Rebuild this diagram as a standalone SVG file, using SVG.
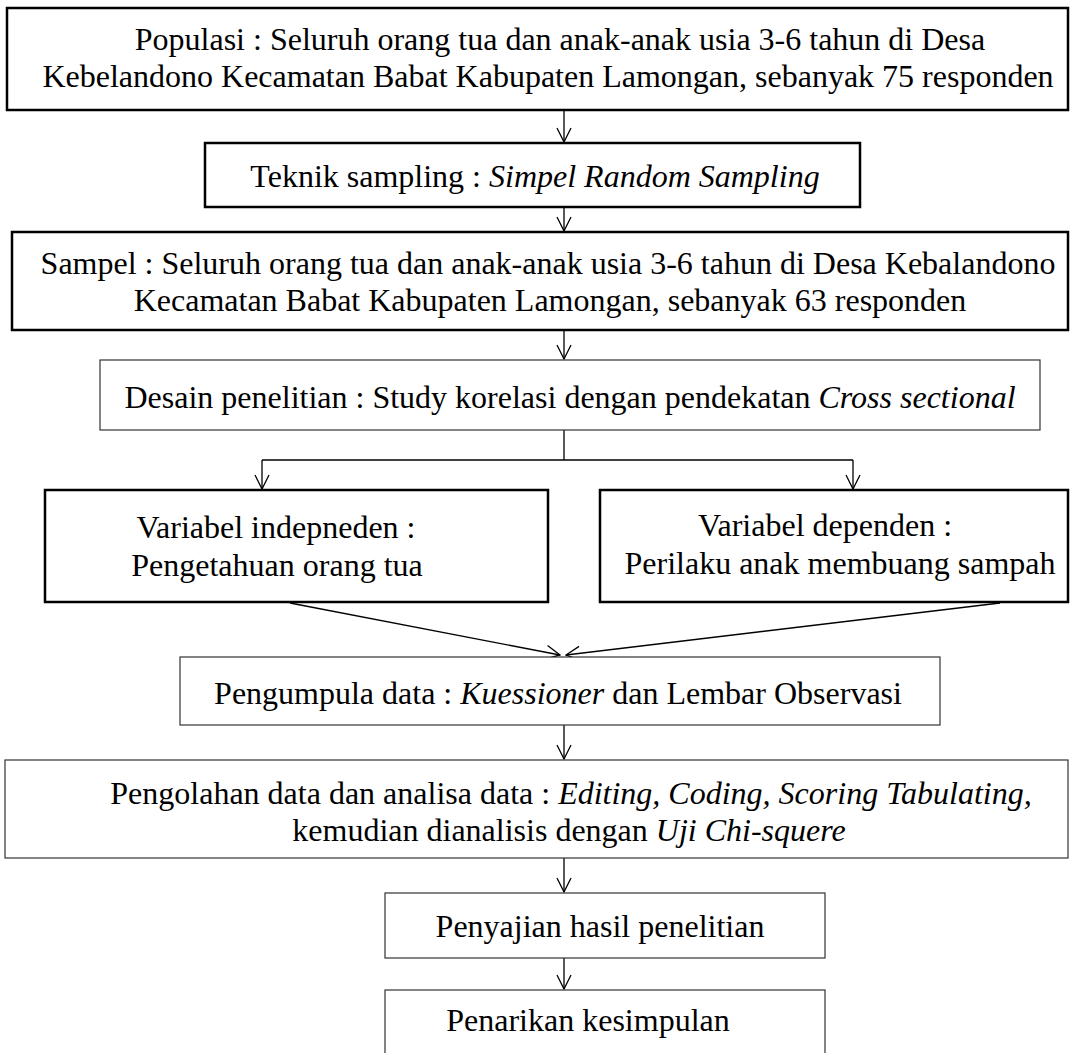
<svg xmlns="http://www.w3.org/2000/svg" width="1071" height="1053" viewBox="0 0 1071 1053">
<style>
text{font-family:"Liberation Serif","Times New Roman",serif;font-size:32px;fill:#000;text-anchor:middle}
.i{font-style:italic}
.thick{fill:#fff;stroke:#000;stroke-width:2.5}
.thin{fill:#fff;stroke:#333;stroke-width:1.2}
.c{fill:none;stroke:#000;stroke-width:1.3}
</style>
<defs>
<marker id="a" viewBox="0 0 16 16" refX="15" refY="8" markerWidth="16" markerHeight="16" markerUnits="userSpaceOnUse" orient="auto">
<path d="M1,1 L15,8 L1,15" fill="none" stroke="#000" stroke-width="1.3"/>
</marker>
</defs>
<rect width="1071" height="1053" fill="#fff"/>
<g id="connectors">
<line class="c" x1="564" y1="110" x2="564" y2="142" marker-end="url(#a)"/>
<line class="c" x1="564" y1="207" x2="564" y2="231" marker-end="url(#a)"/>
<line class="c" x1="564" y1="330" x2="564" y2="359" marker-end="url(#a)"/>
<line class="c" x1="564" y1="430" x2="564" y2="460"/>
<line class="c" x1="262" y1="460" x2="853" y2="460"/>
<line class="c" x1="262" y1="460" x2="262" y2="489" marker-end="url(#a)"/>
<line class="c" x1="853" y1="460" x2="853" y2="489" marker-end="url(#a)"/>
<line class="c" x1="290" y1="603" x2="560" y2="655" marker-end="url(#a)"/>
<line class="c" x1="1000" y1="603" x2="566" y2="655" marker-end="url(#a)"/>
<line class="c" x1="564" y1="725" x2="564" y2="759" marker-end="url(#a)"/>
<line class="c" x1="564" y1="858" x2="564" y2="892" marker-end="url(#a)"/>
<line class="c" x1="564" y1="958" x2="564" y2="989" marker-end="url(#a)"/>
</g>
<g id="populasi">
<rect class="thick" x="7" y="8" width="1061" height="102"/>
<text x="560" y="50">Populasi : Seluruh orang tua dan anak-anak usia 3-6 tahun di Desa</text>
<text x="548" y="87">Kebelandono Kecamatan Babat Kabupaten Lamongan, sebanyak 75 responden</text>
</g>
<g id="teknik">
<rect class="thick" x="205" y="143" width="655" height="64"/>
<text x="535" y="187">Teknik sampling : <tspan class="i">Simpel Random Sampling</tspan></text>
</g>
<g id="sampel">
<rect class="thick" x="12" y="232" width="1056" height="98"/>
<text x="548" y="274">Sampel : Seluruh orang tua dan anak-anak usia 3-6 tahun di Desa Kebalandono</text>
<text x="550" y="311">Kecamatan Babat Kabupaten Lamongan, sebanyak 63 responden</text>
</g>
<g id="desain">
<rect class="thin" x="100" y="360" width="940" height="70"/>
<text x="570" y="408">Desain penelitian : Study korelasi dengan pendekatan <tspan class="i">Cross sectional</tspan></text>
</g>
<g id="independen">
<rect class="thick" x="45" y="490" width="503" height="112"/>
<text x="276" y="538">Variabel indepneden :</text>
<text x="277" y="576">Pengetahuan orang tua</text>
</g>
<g id="dependen">
<rect class="thick" x="600" y="490" width="468" height="112"/>
<text x="825" y="536">Variabel dependen :</text>
<text x="840" y="574">Perilaku anak membuang sampah</text>
</g>
<g id="pengumpulan">
<rect class="thin" x="180" y="657" width="760" height="68"/>
<text x="558" y="704">Pengumpula data : <tspan class="i">Kuessioner</tspan> dan Lembar Observasi</text>
</g>
<g id="pengolahan">
<rect class="thin" x="5" y="760" width="1063" height="98"/>
<text x="571" y="804">Pengolahan data dan analisa data : <tspan class="i">Editing, Coding, Scoring Tabulating,</tspan></text>
<text x="569" y="841">kemudian dianalisis dengan <tspan class="i">Uji Chi-squere</tspan></text>
</g>
<g id="penyajian">
<rect class="thin" x="385" y="893" width="440" height="65"/>
<text x="600" y="937">Penyajian hasil penelitian</text>
</g>
<g id="penarikan">
<rect class="thin" x="385" y="990" width="440" height="80"/>
<text x="588" y="1031">Penarikan kesimpulan</text>
</g>
</svg>
